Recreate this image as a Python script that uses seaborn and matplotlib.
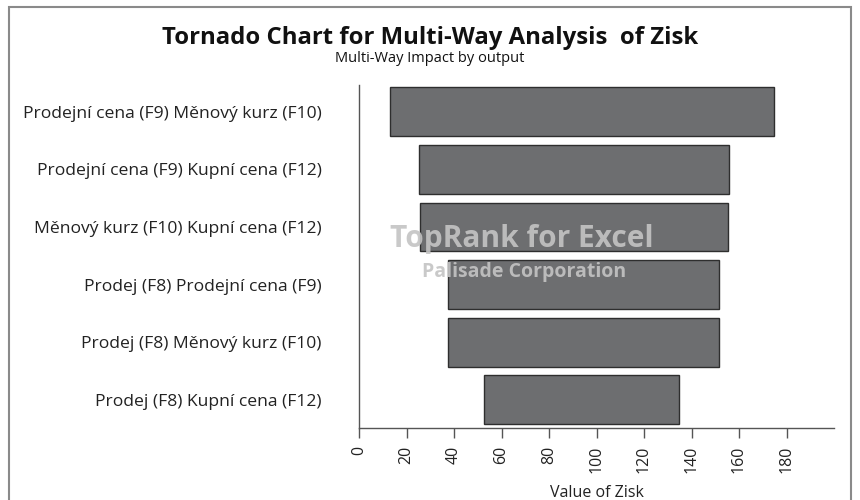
import numpy as np
import pandas as pd
import matplotlib
matplotlib.use("Agg")
import matplotlib.pyplot as plt
import seaborn as sns
from matplotlib.patches import Rectangle

# values
labels = [
    "Prodejní cena (F9) Měnový kurz (F10)",
    "Prodejní cena (F9) Kupní cena (F12)",
    "Měnový kurz (F10) Kupní cena (F12)",
    "Prodej (F8) Prodejní cena (F9)",
    "Prodej (F8) Měnový kurz (F10)",
    "Prodej (F8) Kupní cena (F12)",
]
low = [13.0, 25.3, 25.6, 37.4, 37.4, 52.6]
high = [174.6, 155.6, 155.3, 151.6, 151.6, 134.6]
xticks = [0, 20, 40, 60, 80, 100, 120, 140, 160, 180]

title = "Tornado Chart for Multi-Way Analysis  of Zisk"
subtitle = "Multi-Way Impact by output"
xlabel = "Value of Zisk"

df = pd.DataFrame({"label": labels, "low": low, "high": high})
df["span"] = df["high"] - df["low"]

sns.set_theme(style="white")
plt.rcParams["font.family"] = ["Open Sans", "DejaVu Sans"]

fig = plt.figure(figsize=(8.6, 5), dpi=100)
ax = fig.add_axes([359 / 860, 1 - 428 / 500, (834 - 359) / 860, (428 - 85) / 500])

sns.barplot(data=df, x="span", y="label", order=labels, orient="h", ax=ax,
            color="#6d6e70", saturation=1, width=0.85,
            left=df["low"].values, edgecolor="#2e2e2e", linewidth=1)

ax.set_xlim(0, 200)
ax.set_ylim(5.49, -0.465)
ax.set_xticks(xticks)
ax.set_xticklabels([str(t) for t in xticks], rotation=90, fontsize=11.5, color="#222222")
ax.tick_params(axis="x", bottom=True, length=7, width=1, color="#555555", pad=6)
ax.tick_params(axis="y", left=False, pad=21, labelsize=12.6, labelcolor="#222222")
ax.set_ylabel("")
ax.set_xlabel(xlabel, fontsize=11.5, color="#222222", labelpad=8)

for s in ["top", "right"]:
    ax.spines[s].set_visible(False)
for s in ["left", "bottom"]:
    ax.spines[s].set_color("#555555")
    ax.spines[s].set_linewidth(1)

fig.text(430 / 860, 1 - 38 / 500, title, ha="center", va="center",
         fontsize=17.2, fontweight="bold", color="#111111")
fig.text(430 / 860, 1 - 58 / 500, subtitle, ha="center", va="center",
         fontsize=10.5, color="#111111")

# watermark
ax.text(0.065, 0.55, "TopRank for Excel", transform=ax.transAxes, fontsize=21.5,
        fontweight="bold", color="#c4c4c4", alpha=0.9, va="center", ha="left")
ax.text(0.132, 0.455, "Palisade Corporation", transform=ax.transAxes, fontsize=14,
        fontweight="bold", color="#c4c4c4", alpha=0.9, va="center", ha="left")

# outer frame
fig.patches.append(Rectangle((9 / 860, -0.1), (851 - 9) / 860, 1.1 - 7 / 500,
                             transform=fig.transFigure, fill=False,
                             edgecolor="#8a8a8a", linewidth=1.5))

fig.savefig("out.png", dpi=100)
